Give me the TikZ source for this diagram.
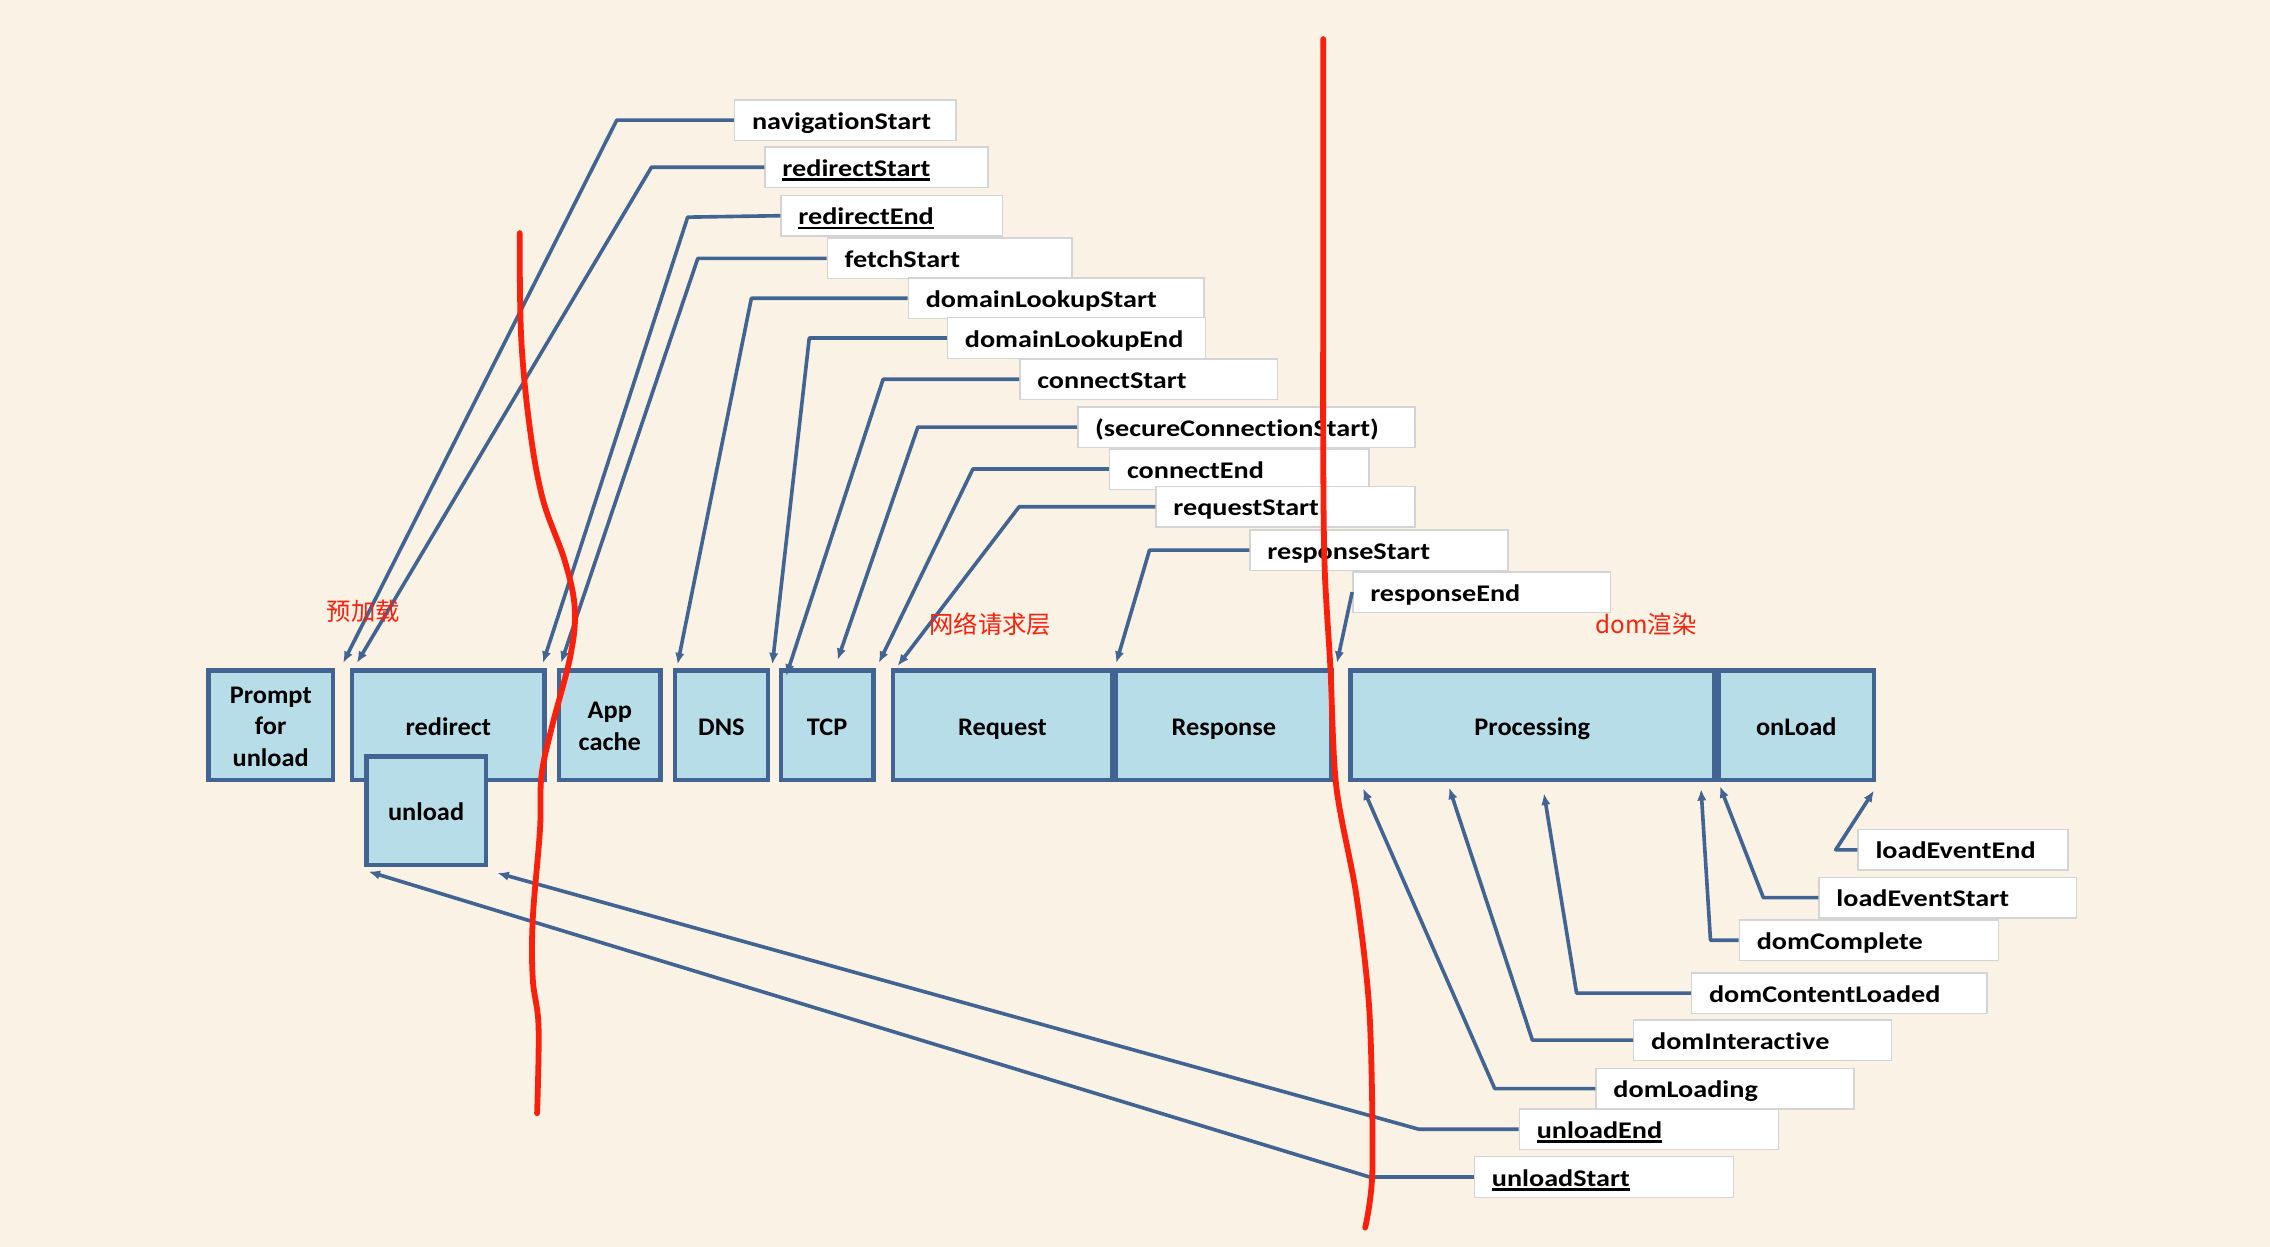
\documentclass[tikz,border=0pt]{standalone}
\usepackage{fontspec}
\setmainfont{Carlito}[FakeStretch=1.18,Ligatures=NoCommon]
\newfontfamily\StageFam{Carlito}[FakeStretch=1.04,Ligatures=NoCommon]
\newfontfamily\cjk{Noto Sans CJK SC}
\usepackage{xcolor}
\definecolor{Col1}{RGB}{66,100,146}
\definecolor{Col2}{RGB}{183,222,232}
\definecolor{Col3}{RGB}{250,32,12}
\definecolor{Paper}{RGB}{250,243,229}
\definecolor{PaperEdge}{RGB}{226,221,211}
\definecolor{TagLine}{RGB}{212,212,212}
\usepackage{tikz}
\usetikzlibrary{arrows.meta}
\pgfdeclareradialshading{Vignette}{\pgfpoint{0bp}{0bp}}{color(0bp)=(Paper); color(44bp)=(Paper); color(71bp)=(PaperEdge)}
\newcommand{\TagFont}{\fontsize{16.5}{20}\selectfont\bfseries}
\newcommand{\StageFont}{\StageFam\fontsize{17.5}{22}\selectfont\bfseries}
\newcommand{\Tg}[2]{\makebox[\dimexpr#1pt-24pt\relax][l]{#2}}
\newcommand{\Ul}[1]{\setbox0\hbox{#1}\rlap{\rule[-3.2pt]{\wd0}{1.8pt}}\box0}
\tikzstyle{Stage}=[rectangle,draw=Col1,fill=Col2,line width=3pt,
minimum height=75.5pt,inner sep=0pt,align=center,font=\StageFont,
text height=13.4pt,text depth=0pt]
\tikzstyle{Tag}=[rectangle,draw=TagLine,fill=white,line width=1pt,
minimum height=28pt,inner xsep=12pt,inner ysep=0pt,anchor=west,
text height=12.6pt,text depth=0pt,font=\TagFont]
\tikzstyle{Edge}=[draw=Col1,line width=2.5pt,line join=round,
-{Latex[length=8pt,width=6.5pt]}]
\tikzstyle{Mark}=[draw=Col3,line width=4pt,line cap=round,line join=round]
\tikzstyle{Note}=[text=Col3,font=\cjk\fontsize{16.8}{16.8}\selectfont]

\begin{document}
\begin{tikzpicture}[x=1pt,y=-1pt]
        \shade[shading=Vignette](0,0)rectangle(1568,861);
        \useasboundingbox(0,0)rectangle(1568,861);
        % stages
        \node[Stage,minimum width=86pt,text height=57.2pt](prompt)at(187,501){Prompt\\for\\unload};
        \node[Stage,minimum width=133pt](redirect)at(309.7,501){redirect};
        \node[Stage,minimum width=82.4pt,minimum height=74.7pt](unload)at(294.3,560){unload};
        \node[Stage,minimum width=70.3pt,text height=35pt](appcache)at(421.2,501){App\\cache};
        \node[Stage,minimum width=64pt](dns)at(498.3,501){DNS};
        \node[Stage,minimum width=64pt](tcp)at(571.3,501){TCP};
        \node[Stage,minimum width=151.3pt](request)at(692.4,501){Request};
        \node[Stage,minimum width=148.8pt](response)at(845.4,501){Response};
        \node[Stage,minimum width=251.2pt](processing)at(1058.4,501){Processing};
        \node[Stage,minimum width=107.5pt](onload)at(1240.7,501){onLoad};
        % timing tags
        \node[Tag](nav)at(507,83){\Tg{153}{navigationStart}};
        \node[Tag](rstart)at(528,115.5){\Tg{154}{\Ul{redirectStart}}};
        \node[Tag](rend)at(539,149){\Tg{153}{\Ul{redirectEnd}}};
        \node[Tag](fetch)at(571,178.5){\Tg{169}{fetchStart}};
        \node[Tag](dlstart)at(627,206){\Tg{204}{domainLookupStart}};
        \node[Tag](dlend)at(654,233.5){\Tg{178}{domainLookupEnd}};
        \node[Tag](cstart)at(704,262){\Tg{178}{connectStart}};
        \node[Tag](secure)at(744,295){\Tg{233}{(secureConnectionStart)}};
        \node[Tag](cend)at(766,324){\Tg{179}{connectEnd}};
        \node[Tag](reqstart)at(798,350){\Tg{179}{requestStart}};
        \node[Tag](respstart)at(863,380){\Tg{178}{responseStart}};
        \node[Tag](respend)at(934,409){\Tg{178}{responseEnd}};
        \node[Tag](loadend)at(1283,587){\Tg{145}{loadEventEnd}};
        \node[Tag](loadstart)at(1256,620){\Tg{178}{loadEventStart}};
        \node[Tag](domc)at(1201,649.5){\Tg{179}{domComplete}};
        \node[Tag](domcl)at(1168,686){\Tg{204}{domContentLoaded}};
        \node[Tag](domi)at(1128,718.5){\Tg{178}{domInteractive}};
        \node[Tag](doml)at(1102,752){\Tg{178}{domLoading}};
        \node[Tag](unend)at(1049,780){\Tg{179}{\Ul{unloadEnd}}};
        \node[Tag](unstart)at(1018,813){\Tg{179}{\Ul{unloadStart}}};
        % arrow ends
        \coordinate(tnav)at(237,458);
        \coordinate(trstart)at(246.5,458);
        \coordinate(trend)at(375,458);
        \coordinate(tfetch)at(387.5,458);
        \coordinate(tdlstart)at(468,459);
        \coordinate(tdlend)at(533.5,459);
        \coordinate(tcstart)at(543,467);
        \coordinate(tsecure)at(578.5,456);
        \coordinate(tcend)at(607,458);
        \coordinate(treqstart)at(620,460);
        \coordinate(trespstart)at(771,458);
        \coordinate(trespend)at(923.5,458);
        \coordinate(tloadend)at(1294.5,546);
        \coordinate(tloadstart)at(1188,543);
        \coordinate(tdomc)at(1175,545);
        \coordinate(tdomcl)at(1066.5,548);
        \coordinate(tdomi)at(1001,544);
        \coordinate(tdoml)at(941.5,544.5);
        \coordinate(tunend)at(343.5,603);
        \coordinate(tunstart)at(254.5,602);
        % connectors
        \draw[Edge](nav.west)--([xshift=-81pt]nav.west)--(tnav);
        \draw[Edge](rstart.west)--([xshift=-78pt]rstart.west)--(trstart);
        \draw[Edge](rend.west)--([xshift=-64pt,yshift=-1pt]rend.west)--(trend);
        \draw[Edge](fetch.west)--([xshift=-89pt]fetch.west)--(tfetch);
        \draw[Edge](dlstart.west)--([xshift=-108pt]dlstart.west)--(tdlstart);
        \draw[Edge](dlend.west)--([xshift=-95pt]dlend.west)--(tdlend);
        \draw[Edge](cstart.west)--([xshift=-94pt]cstart.west)--(tcstart);
        \draw[Edge](secure.west)--([xshift=-110pt]secure.west)--(tsecure);
        \draw[Edge](cend.west)--([xshift=-94pt]cend.west)--(tcend);
        \draw[Edge](reqstart.west)--([xshift=-94pt]reqstart.west)--(treqstart);
        \draw[Edge](respstart.west)--([xshift=-69pt]respstart.west)--(trespstart);
        \draw[Edge](respend.west)--(trespend);
        \draw[Edge](loadend.west)--([xshift=-15pt]loadend.west)--(tloadend);
        \draw[Edge](loadstart.west)--([xshift=-38pt]loadstart.west)--(tloadstart);
        \draw[Edge](domc.west)--([xshift=-19.5pt]domc.west)--(tdomc);
        \draw[Edge](domcl.west)--([xshift=-79pt]domcl.west)--(tdomcl);
        \draw[Edge](domi.west)--([xshift=-69.5pt]domi.west)--(tdomi);
        \draw[Edge](doml.west)--([xshift=-69.5pt]doml.west)--(tdoml);
        \draw[Edge](unend.west)--([xshift=-69pt]unend.west)--(tunend);
        \draw[Edge](unstart.west)--([xshift=-72pt]unstart.west)--(tunstart);
        % red marks
        \draw[Mark]plot[smooth,tension=0.6]coordinates{(359,161)(360,233)(366,296)
            (375,345)(390,387)(397,420)(394,453)(381,503)(374,536)(373,573)
            (368,635)(368,676)(372,709)(371,769)};
        \draw[Mark]plot[smooth,tension=0.5]coordinates{(914,27)(914,170)(914,311)
            (915,392)(919,462)(923,543)(937,619)(946,700)(948,808)(943,848)};
        \node[Note](preload)at(251,422){预加载};
        \node[Note](network)at(684,431){网络请求层};
        \node[Note](render)at(1137,431){dom渲染};
    \end{tikzpicture}
\end{document}
